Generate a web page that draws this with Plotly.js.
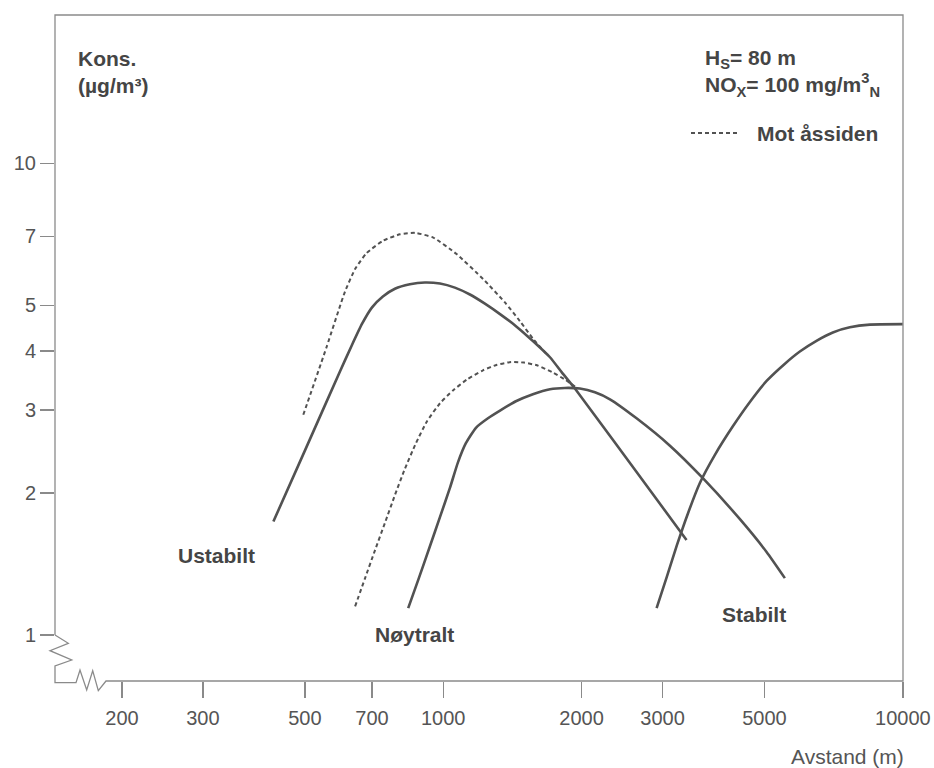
<!DOCTYPE html>
<html>
<head>
<meta charset="utf-8">
<script src="https://cdn.plot.ly/plotly-3.0.1.min.js"></script>
<style>
  html, body { margin: 0; padding: 0; background: #ffffff; }
  #chart { width: 934px; height: 768px; }
</style>
</head>
<body>
<div id="chart"></div>
<script>
// ---- Data (distance in m, concentration in µg/m³) ----
const ustabiltX = [427, 500, 596, 633, 666, 700, 739, 785, 846, 912, 984, 1060, 1143, 1232, 1329, 1446, 1567, 1707, 1813, 1934, 2328, 2815, 3383];
const ustabiltY = [1.74, 2.46, 3.62, 4.12, 4.57, 4.95, 5.22, 5.42, 5.54, 5.59, 5.56, 5.45, 5.27, 5.04, 4.79, 4.50, 4.20, 3.88, 3.60, 3.33, 2.61, 2.03, 1.59];

const ustabiltAasX = [496, 557, 611, 643, 681, 741, 805, 868, 951, 1069, 1222, 1362, 1468, 1567, 1690];
const ustabiltAasY = [2.93, 4.07, 5.34, 5.97, 6.45, 6.86, 7.07, 7.12, 6.96, 6.42, 5.68, 5.07, 4.63, 4.25, 3.91];

const noytraltX = [839, 885, 935, 984, 1034, 1076, 1120, 1178, 1251, 1329, 1439, 1567, 1707, 1840, 1983, 2138, 2305, 2634, 3113, 3672, 4421, 5052, 5537];
const noytraltY = [1.14, 1.32, 1.54, 1.78, 2.05, 2.32, 2.55, 2.75, 2.88, 2.99, 3.13, 3.24, 3.32, 3.34, 3.33, 3.27, 3.16, 2.88, 2.52, 2.15, 1.76, 1.50, 1.32];

const noytraltAasX = [643, 676, 710, 747, 785, 825, 872, 922, 984, 1050, 1126, 1220, 1309, 1404, 1498, 1599, 1724, 1849, 1944];
const noytraltAasY = [1.15, 1.32, 1.51, 1.73, 1.98, 2.25, 2.55, 2.84, 3.10, 3.30, 3.48, 3.64, 3.74, 3.79, 3.78, 3.73, 3.61, 3.47, 3.35];

const stabiltX = [2912, 3066, 3224, 3407, 3617, 3900, 4267, 4647, 5059, 5539, 5969, 6501, 7042, 7668, 8477, 10000];
const stabiltY = [1.14, 1.33, 1.55, 1.81, 2.10, 2.41, 2.77, 3.12, 3.46, 3.76, 3.99, 4.21, 4.38, 4.49, 4.55, 4.56];

const xTickVals = [200, 300, 500, 700, 1000, 2000, 3000, 5000, 10000];
const xTickText = ["200", "300", "500", "700", "1000", "2000", "3000", "5000", "10000"];
const yTickVals = [1, 2, 3, 4, 5, 7, 10];
const yTickText = ["1", "2", "3", "4", "5", "7", "10"];

const stabilityLabels = ["Ustabilt", "Nøytralt", "Stabilt"];
const legendLabel = "Mot åssiden";

// ---- Styling / layout helpers ----
const W = 934, H = 768;
const L = 55, R = 903, T = 15, B = 681;
const px = x => (x - L) / (R - L);
const py = y => (B - y) / (B - T);
const FONT = "Liberation Sans, Arial, Helvetica, sans-serif";
const curveColor = "#525252";
const frameColor = "#8a8a8a";
const textColor = "#454545";

const solid = {color: curveColor, width: 2.6, shape: "spline", smoothing: 0.5};
const dotted = {color: curveColor, width: 2, dash: "4px,3px", shape: "spline", smoothing: 0.5};

const traces = [
  {x: ustabiltAasX, y: ustabiltAasY, mode: "lines", line: dotted, name: legendLabel, showlegend: false, hoverinfo: "skip"},
  {x: noytraltAasX, y: noytraltAasY, mode: "lines", line: dotted, name: legendLabel, showlegend: false, hoverinfo: "skip"},
  {x: ustabiltX, y: ustabiltY, mode: "lines", line: solid, name: stabilityLabels[0], showlegend: false, hoverinfo: "skip"},
  {x: noytraltX, y: noytraltY, mode: "lines", line: solid, name: stabilityLabels[1], showlegend: false, hoverinfo: "skip"},
  {x: stabiltX, y: stabiltY, mode: "lines", line: solid, name: stabilityLabels[2], showlegend: false, hoverinfo: "skip"}
];

// frame with axis-break zigzags (pixel outline -> paper coords)
const framePts = [
  [55, 635], [55, 15], [903, 15], [903, 681], [106, 681],
  [98.3, 690.7], [92.7, 670.7], [86.7, 690], [80, 670], [76, 682.7],
  [55, 682.7], [55, 666], [71.7, 660], [50, 650.7], [68.3, 643.3], [55, 635]
];
const framePath = framePts.map((p, i) => (i ? "L" : "M") + px(p[0]).toFixed(5) + "," + py(p[1]).toFixed(5)).join(" ");

const shapes = [
  {type: "path", xref: "paper", yref: "paper", path: framePath, line: {color: frameColor, width: 1.3}},
  {type: "line", xref: "paper", yref: "paper", x0: px(691), x1: px(737), y0: py(133), y1: py(133),
   line: {color: curveColor, width: 2, dash: "4px,3px"}}
];

const bold = {family: FONT, size: 21, color: textColor, weight: "bold"};
const annotations = [
  {xref: "paper", yref: "paper", x: px(76), y: py(45), xanchor: "left", yanchor: "top", align: "left",
   text: "<b>Kons.<br>(µg/m³)</b>", showarrow: false, font: bold},
  {xref: "paper", yref: "paper", x: px(703), y: py(44), xanchor: "left", yanchor: "top", align: "left",
   text: "<b>H<sub>S</sub>= 80 m<br>NO<sub>X</sub>= 100 mg/m<sup>3</sup><sub>N</sub></b>", showarrow: false, font: bold},
  {xref: "paper", yref: "paper", x: px(755), y: py(133), xanchor: "left", yanchor: "middle",
   text: "<b>" + legendLabel + "</b>", showarrow: false, font: bold},
  {xref: "paper", yref: "paper", x: px(216), y: py(555), xanchor: "center", yanchor: "middle",
   text: "<b>" + stabilityLabels[0] + "</b>", showarrow: false, font: bold},
  {xref: "paper", yref: "paper", x: px(414), y: py(634), xanchor: "center", yanchor: "middle",
   text: "<b>" + stabilityLabels[1] + "</b>", showarrow: false, font: bold},
  {xref: "paper", yref: "paper", x: px(754), y: py(614), xanchor: "center", yanchor: "middle",
   text: "<b>" + stabilityLabels[2] + "</b>", showarrow: false, font: bold},
  {xref: "paper", yref: "paper", x: 1.003, y: py(756), xanchor: "right", yanchor: "middle",
   text: "Avstand (m)", showarrow: false, font: {family: FONT, size: 21, color: "#555555"}}
];

const xPxPerDec = (903 - 122) / Math.log10(10000 / 200);
const yPxPerDec = (635 - 163.3);

const layout = {
  width: W, height: H,
  margin: {l: L, r: W - R, t: T, b: H - B, pad: 0},
  paper_bgcolor: "#ffffff", plot_bgcolor: "#ffffff",
  showlegend: false,
  font: {family: FONT, color: "#555555"},
  xaxis: {
    type: "log",
    range: [Math.log10(200) - (122 - L) / xPxPerDec, 4.0003],
    tickmode: "array", tickvals: xTickVals, ticktext: xTickText,
    ticks: "outside", ticklen: 16, tickwidth: 1.3, tickcolor: frameColor,
    ticklabelstandoff: 3,
    showline: false, showgrid: false, zeroline: false,
    tickfont: {family: FONT, size: 20, color: "#555555"}
  },
  yaxis: {
    type: "log",
    range: [-(B - 635) / yPxPerDec, (635 - T) / yPxPerDec],
    tickmode: "array", tickvals: yTickVals, ticktext: yTickText,
    ticks: "outside", ticklen: 14, tickwidth: 1.3, tickcolor: frameColor,
    showline: false, showgrid: false, zeroline: false,
    tickfont: {family: FONT, size: 20, color: "#555555"}
  },
  shapes: shapes,
  annotations: annotations
};

Plotly.newPlot("chart", traces, layout, {displayModeBar: false, staticPlot: true});
</script>
</body>
</html>
